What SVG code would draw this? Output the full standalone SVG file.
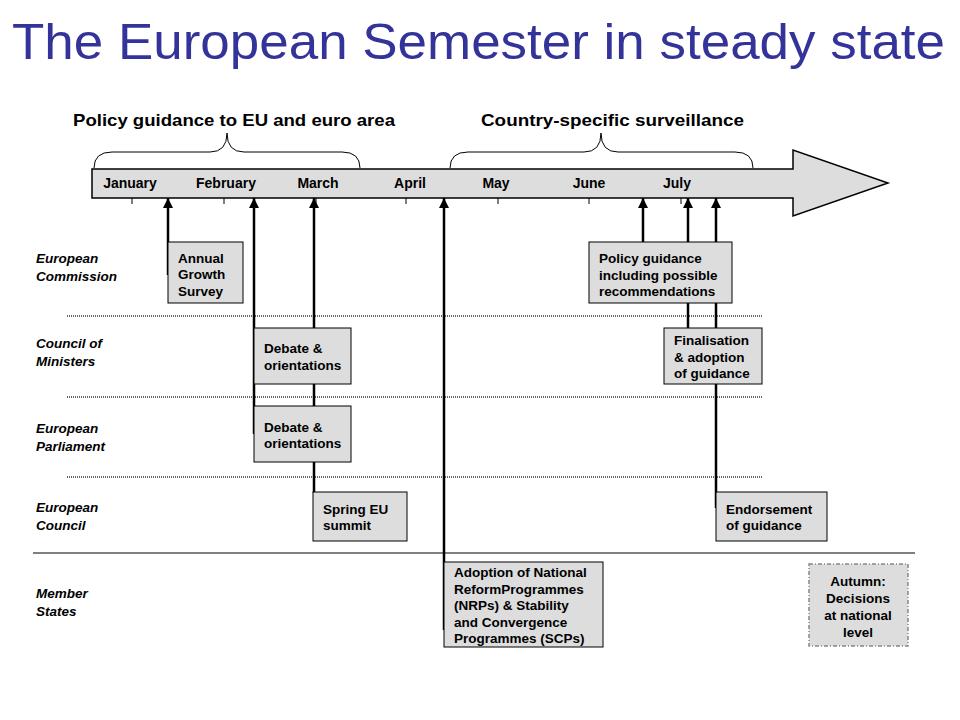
<svg xmlns="http://www.w3.org/2000/svg" width="960" height="720" viewBox="0 0 960 720">
<defs>
<style>
.title{font-family:"Liberation Sans",Arial,sans-serif;font-size:50px;fill:#333399}
.hdr{font-family:"Liberation Sans",Arial,sans-serif;font-size:17px;font-weight:bold;fill:#000}
.mon{font-family:"Liberation Sans",Arial,sans-serif;font-size:14px;font-weight:bold;fill:#000;text-anchor:middle}
.row{font-family:"Liberation Sans",Arial,sans-serif;font-size:13.5px;font-weight:bold;font-style:italic;fill:#000}
.bt{font-family:"Liberation Sans",Arial,sans-serif;font-size:13.5px;font-weight:bold;fill:#000}
.box{fill:#dddddd;stroke:#000;stroke-width:1}
.brace{fill:none;stroke:#000;stroke-width:1}
.sep{stroke:#666;stroke-width:2;stroke-dasharray:1 1}
.conn{stroke:#000;stroke-width:2.5;fill:none}
.tick{stroke:#000;stroke-width:1}
</style>
<marker id="ah" viewBox="0 0 10 10" refX="10" refY="5" markerWidth="4" markerHeight="4" markerUnits="strokeWidth" orient="auto">
<path d="M0,0 L10,5 L0,10 Z" fill="#000"/>
</marker>
</defs>
<rect width="960" height="720" fill="#fff"/>
<text class="title" x="12" y="59" textLength="933" lengthAdjust="spacingAndGlyphs">The European Semester in steady state</text>
<text class="hdr" x="73" y="126" textLength="322" lengthAdjust="spacingAndGlyphs">Policy guidance to EU and euro area</text>
<text class="hdr" x="481" y="126" textLength="263" lengthAdjust="spacingAndGlyphs">Country-specific surveillance</text>
<g id="braces">
<path class="brace" d="M94,168 Q94,152 112,152 L210,152 Q227,152 227,133 Q227,152 244,152 L342,152 Q360,152 360,168"/>
<path class="brace" d="M450,168 Q450,152 468,152 L584,152 Q601,152 601,133 Q601,152 618,152 L735,152 Q753,152 753,168"/>
</g>
<g id="timeline">
<path d="M92,169 L793,169 L793,150 L888,183 L793,216 L793,198 L92,198 Z" fill="#dddddd" stroke="#000" stroke-width="1.5"/>
<line class="tick" x1="132" y1="198" x2="132" y2="204"/>
<line class="tick" x1="224" y1="198" x2="224" y2="204"/>
<line class="tick" x1="316" y1="198" x2="316" y2="204"/>
<line class="tick" x1="406" y1="198" x2="406" y2="204"/>
<line class="tick" x1="498" y1="198" x2="498" y2="204"/>
<line class="tick" x1="589" y1="198" x2="589" y2="204"/>
<line class="tick" x1="681" y1="198" x2="681" y2="204"/>
<text class="mon" x="130" y="188">January</text>
<text class="mon" x="226" y="188">February</text>
<text class="mon" x="318" y="188">March</text>
<text class="mon" x="410" y="188">April</text>
<text class="mon" x="496" y="188">May</text>
<text class="mon" x="589" y="188">June</text>
<text class="mon" x="677" y="188">July</text>
</g>
<g id="lanes">
<line class="sep" x1="67" y1="316" x2="762" y2="316"/>
<line class="sep" x1="67" y1="397" x2="762" y2="397"/>
<line class="sep" x1="67" y1="477" x2="762" y2="477"/>
<line x1="33" y1="553" x2="915" y2="553" stroke="#000" stroke-width="1"/>
<text class="row" x="36" y="263">European</text>
<text class="row" x="36" y="281">Commission</text>
<text class="row" x="36" y="348">Council of</text>
<text class="row" x="36" y="366">Ministers</text>
<text class="row" x="36" y="433">European</text>
<text class="row" x="36" y="451">Parliament</text>
<text class="row" x="36" y="512">European</text>
<text class="row" x="36" y="530">Council</text>
<text class="row" x="36" y="598">Member</text>
<text class="row" x="36" y="616">States</text>
</g>
<g id="connectors">
<line class="conn" x1="168" y1="275" x2="168" y2="198" marker-end="url(#ah)"/>
<line class="conn" x1="254" y1="434" x2="254" y2="198" marker-end="url(#ah)"/>
<line class="conn" x1="314" y1="493" x2="314" y2="198" marker-end="url(#ah)"/>
<line class="conn" x1="444" y1="630" x2="444" y2="198" marker-end="url(#ah)"/>
<line class="conn" x1="643" y1="242" x2="643" y2="198" marker-end="url(#ah)"/>
<line class="conn" x1="688" y1="328" x2="688" y2="198" marker-end="url(#ah)"/>
<line class="conn" x1="716" y1="508" x2="716" y2="198" marker-end="url(#ah)"/>
</g>
<g id="annual-growth-survey">
<rect class="box" x="168" y="242" width="75" height="61"/>
<text class="bt" x="178" y="263">Annual</text>
<text class="bt" x="178" y="279">Growth</text>
<text class="bt" x="178" y="296">Survey</text>
</g>
<g id="debate-council">
<rect class="box" x="254" y="328" width="97" height="56"/>
<text class="bt" x="264" y="353">Debate &amp;</text>
<text class="bt" x="264" y="370">orientations</text>
</g>
<g id="debate-parliament">
<rect class="box" x="254" y="406" width="97" height="56"/>
<text class="bt" x="264" y="432">Debate &amp;</text>
<text class="bt" x="264" y="448">orientations</text>
</g>
<g id="spring-summit">
<rect class="box" x="313" y="492" width="94" height="49"/>
<text class="bt" x="323" y="514">Spring EU</text>
<text class="bt" x="323" y="530">summit</text>
</g>
<g id="policy-guidance">
<rect class="box" x="589" y="242" width="143" height="61"/>
<text class="bt" x="599" y="263">Policy guidance</text>
<text class="bt" x="599" y="280">including possible</text>
<text class="bt" x="599" y="296">recommendations</text>
</g>
<g id="finalisation">
<rect class="box" x="664" y="328" width="98" height="56"/>
<text class="bt" x="674" y="345">Finalisation</text>
<text class="bt" x="674" y="362">&amp; adoption</text>
<text class="bt" x="674" y="378">of guidance</text>
</g>
<g id="endorsement">
<rect class="box" x="716" y="492" width="111" height="49"/>
<text class="bt" x="726" y="514">Endorsement</text>
<text class="bt" x="726" y="530">of guidance</text>
</g>
<g id="adoption-nrp">
<rect class="box" x="444" y="562" width="159" height="85"/>
<text class="bt" x="454" y="577">Adoption of National</text>
<text class="bt" x="454" y="594">ReformProgrammes</text>
<text class="bt" x="454" y="610">(NRPs) &amp; Stability</text>
<text class="bt" x="454" y="627">and Convergence</text>
<text class="bt" x="454" y="643">Programmes (SCPs)</text>
</g>
<g id="autumn">
<rect x="809" y="564" width="99" height="82" fill="#dddddd" stroke="#888" stroke-width="1.5" stroke-dasharray="4 2 1 2"/>
<text class="bt" x="858" y="586" text-anchor="middle">Autumn:</text>
<text class="bt" x="858" y="603" text-anchor="middle">Decisions</text>
<text class="bt" x="858" y="620" text-anchor="middle">at national</text>
<text class="bt" x="858" y="637" text-anchor="middle">level</text>
</g>
</svg>
